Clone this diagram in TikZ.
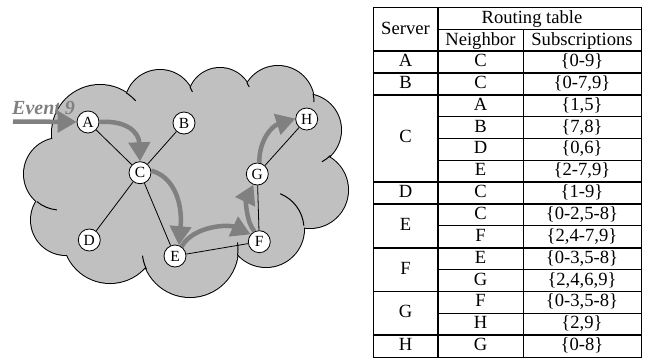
\documentclass[tikz,border=0pt]{standalone}
\usepackage{fontspec}
\setmainfont{Liberation Serif}
\usetikzlibrary{arrows.meta}
\definecolor{cloudgray}{HTML}{C0C0C0}
\definecolor{flowgray}{HTML}{808080}
\begin{document}
\begin{tikzpicture}[x=1pt,y=1pt,yscale=-1,
  server/.style={circle,draw=black,fill=white,line width=0.8pt,minimum size=22pt,inner sep=0pt,font=\fontsize{15.5}{15.5}\selectfont},
  link/.style={draw=black,line width=0.8pt},
  flow/.style={draw=flowgray,line width=4.5pt,-{Triangle[length=19pt,width=21pt]}},
  cell/.style={inner sep=0pt,text height=12pt,text depth=4pt,font=\fontsize{18.6}{18.6}\selectfont},
  thinrule/.style={line width=0.8pt},
  thickrule/.style={line width=1.8pt},
  lobeedge/.style={line width=1pt}]
\useasboundingbox (0,0) rectangle (645,362);

% cloud: outlined lobes, then the gray fill on top leaves only the outer rim
\def\lobes{100/133/48,60/174/36,66/220/35,110/236/47,190/249/48,266/229/38,310/190/38,305/130/36,278/102/36,220/100/32,160/105/35}
\foreach \cx/\cy/\rad in \lobes {\draw[line width=2pt] (\cx,\cy) circle[radius=\rad];}
\fill[cloudgray] (100,133) -- (60,174) -- (66,220) -- (110,236) -- (190,249) -- (266,229) -- (310,190) -- (305,130) -- (278,102) -- (220,100) -- (160,105) -- cycle;
\foreach \cx/\cy/\rad in \lobes {\fill[cloudgray] (\cx,\cy) circle[radius=\rad];}
% short inner strokes where the lobes overlap
\draw[lobeedge] (100,133) ++(-57:48) arc[start angle=-57,end angle=-42,radius=48];
\draw[lobeedge] (60,174) ++(130:36) arc[start angle=130,end angle=95,radius=36];
\draw[lobeedge] (190,249) ++(155:48) arc[start angle=155,end angle=172,radius=48];
\draw[lobeedge] (190,249) ++(8:48) arc[start angle=8,end angle=-8,radius=48];
\draw[lobeedge] (266,229) ++(-5:38) arc[start angle=-5,end angle=-68,radius=38];
\draw[lobeedge] (305,130) ++(45:36) arc[start angle=45,end angle=62,radius=36];
\draw[lobeedge] (278,102) ++(-13:36) arc[start angle=-13,end angle=0,radius=36];
\draw[lobeedge] (160,105) ++(-31:35) arc[start angle=-31,end angle=-22,radius=35];
\draw[lobeedge] (220,100) ++(-33:32) arc[start angle=-33,end angle=-24,radius=32];

% servers
\node[server] (A) at (88,122) {A};
\node[server] (B) at (184,123) {B};
\node[server] (C) at (140,172.7) {C};
\node[server] (D) at (89.3,240) {D};
\node[server] (E) at (175,256) {E};
\node[server] (F) at (259.3,241.7) {F};
\node[server] (G) at (257.3,174) {G};
\node[server] (H) at (306.7,119) {H};

% overlay links
\draw[link] (A) -- (C);
\draw[link] (B) -- (C);
\draw[link] (C) -- (D);
\draw[link] (C) -- (E);
\draw[link] (E) -- (F);
\draw[link] (F) -- (G);
\draw[link] (G) -- (H);

% event propagation
\node[anchor=base west,inner sep=0pt,text=flowgray,font=\fontsize{20}{20}\selectfont\bfseries\itshape] (evlabel) at (12,114) {Event 9};
\coordinate (evsrc) at (13,121.5);
\draw[flow] (evsrc) -- (A);
\draw[flow] (A.east) .. controls (126,120) and (139,132) .. (C.north);
\draw[flow] (C.10) .. controls (172,176) and (183,200) .. (E.70);
\draw[flow] (E.55) .. controls (193,226) and (228,224) .. (F.140);
\draw[flow] (F.115) .. controls (246,222) and (246,200) .. (G.250);
\draw[flow] (G.80) .. controls (259,140) and (272,126) .. (H.178);

% routing table
\def\rh{21.86}
\draw[thinrule] (373,7) rectangle (641,357.04);
\draw[thinrule] (438,29) -- (641,29);
\draw[thinrule] (523,29) -- (523,357.04);
\draw[thickrule] (438,7) -- (438,357.04);
\draw[thickrule] (373,51) -- (641,51);
\foreach \k in {1,2,6,7,9,11,13} \draw[thickrule] (373,{51+\k*\rh}) -- (641,{51+\k*\rh});
\foreach \k in {3,4,5,8,10,12} \draw[thinrule] (438,{51+\k*\rh}) -- (641,{51+\k*\rh});

\node[cell] (hserver) at (405.5,30) {Server};
\node[cell] (hrouting) at (532,19) {Routing table};
\node[cell] (hneighbor) at (480.5,41) {Neighbor};
\node[cell] (hsubs) at (582,41) {Subscriptions};

\foreach \s/\a/\b in {A/0/0,B/1/1,C/2/5,D/6/6,E/7/8,F/9/10,G/11/12,H/13/13}
  \node[cell] (srv\s) at (405.5,{51.5+(\a+\b+1)/2*\rh}) {\s};

\foreach \i/\nb/\subs in {0/C/{\{0-9\}},1/C/{\{0-7,9\}},2/A/{\{1,5\}},3/B/{\{7,8\}},4/D/{\{0,6\}},5/E/{\{2-7,9\}},6/C/{\{1-9\}},7/C/{\{0-2,5-8\}},8/F/{\{2,4-7,9\}},9/E/{\{0-3,5-8\}},10/G/{\{2,4,6,9\}},11/F/{\{0-3,5-8\}},12/H/{\{2,9\}},13/G/{\{0-8\}}}{
  \node[cell] (nb\i) at (480.5,{51.5+(\i+0.5)*\rh}) {\nb};
  \node[cell] (sub\i) at (582,{51.5+(\i+0.5)*\rh}) {\subs};
}
\end{tikzpicture}
\end{document}
